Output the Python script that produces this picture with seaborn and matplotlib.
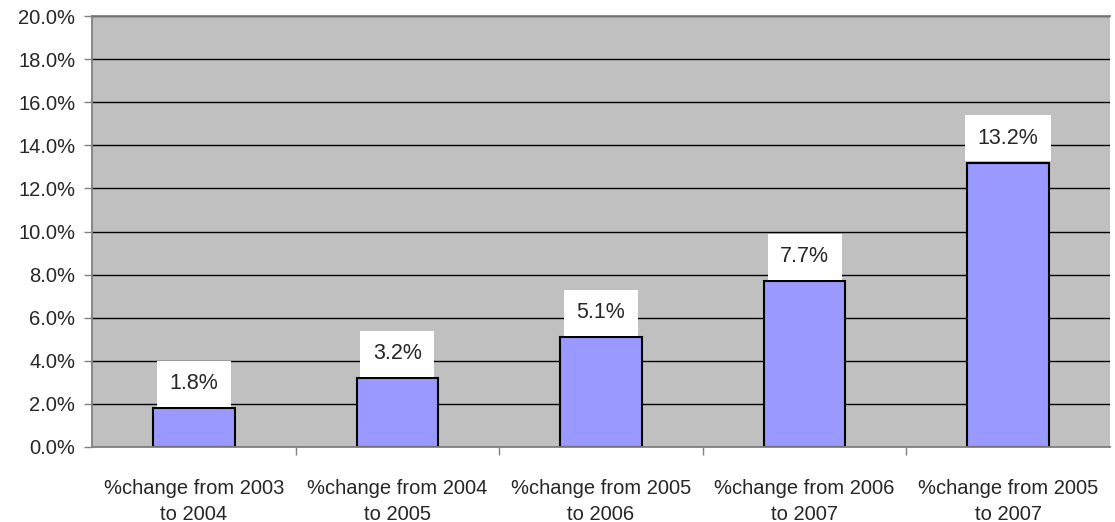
import seaborn as sns
import matplotlib.pyplot as plt
import pandas as pd
from matplotlib.ticker import FuncFormatter, FixedLocator

# data
periods = ["%change from 2003\nto 2004", "%change from 2004\nto 2005",
           "%change from 2005\nto 2006", "%change from 2006\nto 2007",
           "%change from 2005\nto 2007"]
pct_change = [1.8, 3.2, 5.1, 7.7, 13.2]
value_labels = ["1.8%", "3.2%", "5.1%", "7.7%", "13.2%"]
y_ticks = [0, 2, 4, 6, 8, 10, 12, 14, 16, 18, 20]

df = pd.DataFrame({"period": periods, "pct": pct_change})

sns.set_style("white")
plt.rcParams["font.family"] = ["Liberation Sans", "DejaVu Sans"]

fig = plt.figure(figsize=(11.15, 5.22), dpi=100)
ax = fig.add_axes([0.0825, 0.1437, 0.913, 0.8256])
ax.set_facecolor("#C0C0C0")

sns.barplot(data=df, x="period", y="pct", color="#9999FF", saturation=1,
            edgecolor="black", linewidth=1.5, width=0.4, ax=ax)

ax.set_ylim(0, 20)
ax.set_xlim(-0.5, len(periods) - 0.5)
ax.yaxis.set_major_locator(FixedLocator(y_ticks))
ax.yaxis.set_major_formatter(FuncFormatter(lambda v, p: f"{v:.1f}%"))
ax.grid(axis="y", color="black", linewidth=1)
ax.set_axisbelow(True)

# category boundary ticks on x
ax.set_xticks([i + 0.5 for i in range(len(periods) - 1)], minor=True)
ax.tick_params(axis="x", which="minor", bottom=True, length=6, width=1,
               color="#808080", direction="out")
ax.tick_params(axis="x", which="major", bottom=False, length=0, pad=23, labelsize=14.5)
ax.tick_params(axis="y", left=True, length=6, width=1, color="#808080",
               direction="out", labelsize=14.5, pad=6)
for t in ax.get_xticklabels():
    t.set_linespacing(1.45)
ax.set_xlabel("")
ax.set_ylabel("")

for side in ["left", "bottom", "top"]:
    ax.spines[side].set_color("#808080")
    ax.spines[side].set_linewidth(1.3)
ax.spines["right"].set_visible(False)

for i, (v, lab) in enumerate(zip(pct_change, value_labels)):
    ax.annotate(lab, (i, v), xytext=(0, 10), textcoords="offset points",
                ha="center", va="bottom", fontsize=15.5,
                bbox=dict(boxstyle="square,pad=0.58", fc="white", ec="none"))

fig.savefig("out.png", dpi=100)
